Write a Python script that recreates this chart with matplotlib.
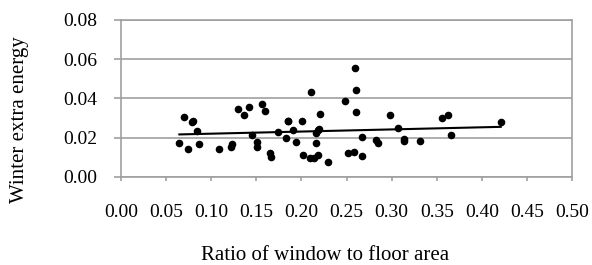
import numpy as np
import matplotlib
matplotlib.use("Agg")
import matplotlib.pyplot as plt

plt.rcParams['font.family'] = ['Liberation Serif', 'DejaVu Serif']

ratio = [0.0647, 0.0698, 0.0747, 0.0783, 0.0798, 0.0839, 0.0861, 0.109, 0.1216, 0.1227,
         0.130, 0.1364, 0.1419, 0.1452, 0.1504, 0.1504, 0.1567, 0.160, 0.1656, 0.1663,
         0.1744, 0.183, 0.1848, 0.1855, 0.191, 0.1937, 0.2003, 0.2014, 0.2099, 0.2143,
         0.2187, 0.211, 0.2158, 0.218, 0.2195, 0.2166, 0.2203, 0.2291, 0.248, 0.252,
         0.2583, 0.2598, 0.2602, 0.2602, 0.2668, 0.2675, 0.2827, 0.2846, 0.2986, 0.3075,
         0.3141, 0.3141, 0.3318, 0.3559, 0.3625, 0.3655, 0.421]
energy = [0.0170, 0.0305, 0.0139, 0.0277, 0.0285, 0.0234, 0.0165, 0.0139, 0.0153, 0.0165,
          0.0346, 0.0314, 0.0356, 0.0212, 0.0178, 0.0153, 0.0373, 0.0336, 0.0119, 0.0100,
          0.0229, 0.0200, 0.0283, 0.0285, 0.0236, 0.0178, 0.0285, 0.0109, 0.0094, 0.0097,
          0.0112, 0.0432, 0.0221, 0.0238, 0.0246, 0.0171, 0.0320, 0.0073, 0.0385, 0.0122,
          0.0124, 0.0554, 0.0444, 0.0331, 0.0202, 0.0107, 0.0185, 0.0171, 0.0315, 0.0249,
          0.0195, 0.0180, 0.0182, 0.0302, 0.0314, 0.0211, 0.0280]

x_ticks = [0.00, 0.05, 0.10, 0.15, 0.20, 0.25, 0.30, 0.35, 0.40, 0.45, 0.50]
y_ticks = [0.00, 0.02, 0.04, 0.06, 0.08]

fig = plt.figure(figsize=(5.92, 2.65), dpi=100)
ax = fig.add_axes([121/592, 1-176.7/265, (572-121)/592, (176.7-20)/265])

gray = '#a0a0a0'
ax.set_xlim(0, 0.5)
ax.set_ylim(0, 0.08)
ax.set_xticks(x_ticks)
ax.set_yticks(y_ticks)
ax.set_xticklabels([f"{v:.2f}" for v in x_ticks])
ax.set_yticklabels([f"{v:.2f}" for v in y_ticks])
ax.grid(axis='y', color=gray, lw=1.2)
ax.set_axisbelow(True)
for s in ax.spines.values():
    s.set_color(gray)
    s.set_linewidth(1.2)
ax.tick_params(axis='x', length=3, width=1.2, color=gray, pad=17, labelsize=14)
ax.tick_params(axis='y', length=5, width=1.2, color=gray, pad=12, labelsize=14)

ax.scatter(ratio, energy, s=20, color='black', zorder=3)
xr = np.array(ratio)
coef = np.polyfit(xr, np.array(energy), 1)
xs = np.array([xr.min(), xr.max()])
ax.plot(xs, np.polyval(coef, xs), color='black', lw=1.5, zorder=2)

fig.text(325/592, 1-255/265, 'Ratio of window to floor area', fontsize=15,
         ha='center', va='center')
fig.text(20/592, 1-120/265, 'Winter extra energy', fontsize=15,
         ha='center', va='center', rotation=90)

fig.savefig('out.png', dpi=100)
